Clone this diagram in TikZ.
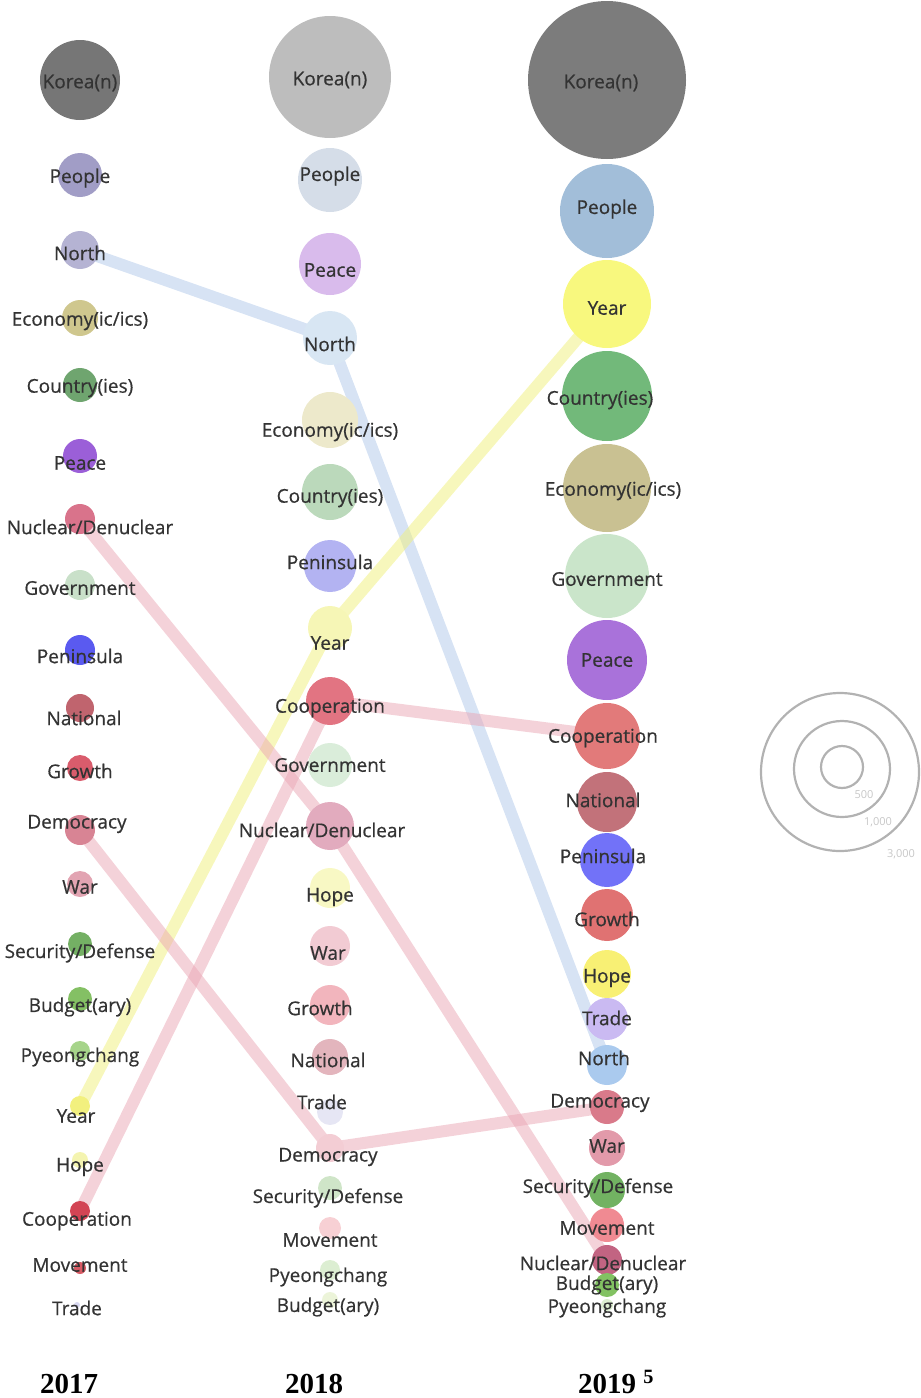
\documentclass[tikz,border=0pt]{standalone}
\usepackage{fontspec}
\setmainfont{Liberation Serif}
\newfontfamily\wordfont[FakeBold=0.6]{Open Sans}
\newfontfamily\ringfont{Open Sans}
\usetikzlibrary{backgrounds}
% 2017
\definecolor{korea17}{HTML}{767676}
\definecolor{people17}{HTML}{A19DC6}
\definecolor{north17}{HTML}{B5B3D3}
\definecolor{econ17}{HTML}{CFC78E}
\definecolor{country17}{HTML}{6FA56F}
\definecolor{peace17}{HTML}{9B5FD8}
\definecolor{nuc17}{HTML}{D9738B}
\definecolor{gov17}{HTML}{C9E0C9}
\definecolor{pen17}{HTML}{5A5AF0}
\definecolor{nat17}{HTML}{C0646E}
\definecolor{growth17}{HTML}{D95C6C}
\definecolor{demo17}{HTML}{D88494}
\definecolor{war17}{HTML}{E2A4B2}
\definecolor{sec17}{HTML}{74B064}
\definecolor{bud17}{HTML}{84C064}
\definecolor{pyeong17}{HTML}{A6D48A}
\definecolor{year17}{HTML}{F2F07E}
\definecolor{hope17}{HTML}{F4F4B0}
\definecolor{coop17}{HTML}{D24454}
\definecolor{move17}{HTML}{D85A64}
\definecolor{trade17}{HTML}{D8D8F0}
% 2018
\definecolor{korea18}{HTML}{BDBDBD}
\definecolor{people18}{HTML}{D5DDE8}
\definecolor{peace18}{HTML}{D9BBEC}
\definecolor{north18}{HTML}{D8E6F3}
\definecolor{econ18}{HTML}{EDE9CB}
\definecolor{country18}{HTML}{BBD9BB}
\definecolor{pen18}{HTML}{B3B3F2}
\definecolor{year18}{HTML}{F6F6B6}
\definecolor{coop18}{HTML}{E27482}
\definecolor{gov18}{HTML}{DAEDDA}
\definecolor{nuc18}{HTML}{E2ABBE}
\definecolor{hope18}{HTML}{F8F8C4}
\definecolor{war18}{HTML}{F2CBD3}
\definecolor{growth18}{HTML}{F2B5BD}
\definecolor{nat18}{HTML}{E3B5BD}
\definecolor{trade18}{HTML}{E6E6F4}
\definecolor{demo18}{HTML}{F3CDD4}
\definecolor{sec18}{HTML}{CFE5C8}
\definecolor{move18}{HTML}{F7D0D4}
\definecolor{pyeong18}{HTML}{DCEED2}
\definecolor{bud18}{HTML}{ECF4D9}
% 2019
\definecolor{korea19}{HTML}{7C7C7C}
\definecolor{people19}{HTML}{A2BED9}
\definecolor{year19}{HTML}{F8F87E}
\definecolor{country19}{HTML}{72B97A}
\definecolor{econ19}{HTML}{C9C192}
\definecolor{gov19}{HTML}{CAE5CA}
\definecolor{peace19}{HTML}{A972DA}
\definecolor{coop19}{HTML}{E27A7A}
\definecolor{nat19}{HTML}{C2727A}
\definecolor{pen19}{HTML}{7272F8}
\definecolor{growth19}{HTML}{E07272}
\definecolor{hope19}{HTML}{F8F074}
\definecolor{trade19}{HTML}{CABAF2}
\definecolor{north19}{HTML}{AACAEE}
\definecolor{demo19}{HTML}{D97A8A}
\definecolor{war19}{HTML}{E29AAA}
\definecolor{sec19}{HTML}{72B262}
\definecolor{move19}{HTML}{F08A92}
\definecolor{nuc19}{HTML}{C26482}
\definecolor{bud19}{HTML}{82C262}
\definecolor{pyeong19}{HTML}{DDEFD0}
% trails
\definecolor{trailblue}{HTML}{B0C8EA}
\definecolor{trailyellow}{HTML}{F0F07A}
\definecolor{trailpink}{HTML}{EAA6B4}

\newcommand{\bubble}[5]{ node[bubble, minimum size=#3, fill=#4, name={#2}] {} node[word, #1] {#5}}
\tikzset{bubble/.style={circle, draw=none, inner sep=0pt}}
\tikzset{word/.style={font=\wordfont\fontsize{19pt}{22pt}\selectfont, text=black!80, inner sep=0pt, yshift=-3pt}}
\tikzset{trail/.style={line width=12pt, opacity=.5, line join=round}}
\tikzset{ring/.style={circle, draw=black!30, line width=2.2pt, inner sep=0pt}}
\tikzset{ringlabel/.style={font=\ringfont\fontsize{11pt}{13pt}\selectfont, text=black!22}}
\tikzset{yearlabel/.style={font=\bfseries\fontsize{29pt}{32pt}\selectfont, anchor=base}}

\begin{document}
\begin{tikzpicture}[x=1pt, y=-1pt]
  \useasboundingbox (0,0) rectangle (921,1398);

  % 2017
  \path (80,80) \bubble{}{korea17}{80pt}{korea17}{Korea(n)};
  \path (80,175) \bubble{}{people17}{44pt}{people17}{People};
  \path (80,250) \bubble{}{north17}{38pt}{north17}{North};
  \path (80,318) \bubble{}{econ17}{36pt}{econ17}{Economy(ic/ics)};
  \path (80,385) \bubble{}{country17}{34pt}{country17}{Country(ies)};
  \path (80,456) \bubble{yshift=-4pt}{peace17}{34pt}{peace17}{Peace};
  \path (80,519) \bubble{yshift=-5pt, xshift=10pt}{nuc17}{30pt}{nuc17}{Nuclear/Denuclear};
  \path (80,585) \bubble{}{gov17}{30pt}{gov17}{Government};
  \path (80,650) \bubble{yshift=-3pt}{pen17}{30pt}{pen17}{Peninsula};
  \path (80,708) \bubble{yshift=-7pt, xshift=4pt}{nat17}{28pt}{nat17}{National};
  \path (80,768) \bubble{}{growth17}{26pt}{growth17}{Growth};
  \path (80,830) \bubble{yshift=9pt, xshift=-3pt}{demo17}{30pt}{demo17}{Democracy};
  \path (80,884) \bubble{}{war17}{26pt}{war17}{War};
  \path (80,944) \bubble{yshift=-6pt}{sec17}{24pt}{sec17}{Security/Defense};
  \path (80,999) \bubble{yshift=-5pt}{bud17}{24pt}{bud17}{Budget(ary)};
  \path (80,1051) \bubble{yshift=-3pt}{pyeong17}{20pt}{pyeong17}{Pyeongchang};
  \path (80,1106) \bubble{yshift=-7pt, xshift=-4pt}{year17}{20pt}{year17}{Year};
  \path (80,1160) \bubble{yshift=-4pt}{hope17}{16pt}{hope17}{Hope};
  \path (80,1211) \bubble{yshift=-7pt, xshift=-3pt}{coop17}{20pt}{coop17}{Cooperation};
  \path (80,1268) \bubble{yshift=6pt}{move17}{12pt}{move17}{Movement};
  \path (77,1305) \bubble{}{trade17}{6pt}{trade17}{Trade};

  % 2018
  \path (330,77) \bubble{}{korea18}{122pt}{korea18}{Korea(n)};
  \path (330,180) \bubble{yshift=7pt}{people18}{64pt}{people18}{People};
  \path (330,264) \bubble{yshift=-3pt}{peace18}{62pt}{peace18}{Peace};
  \path (330,338) \bubble{yshift=-3pt}{north18}{54pt}{north18}{North};
  \path (330,420) \bubble{yshift=-9pt}{econ18}{56pt}{econ18}{Economy(ic/ics)};
  \path (330,492) \bubble{yshift=-3pt}{country18}{56pt}{country18}{Country(ies)};
  \path (330,566) \bubble{yshift=7pt}{pen18}{52pt}{pen18}{Peninsula};
  \path (330,628) \bubble{yshift=-12pt}{year18}{44pt}{year18}{Year};
  \path (330,701) \bubble{yshift=-4pt}{coop18}{48pt}{coop18}{Cooperation};
  \path (330,765) \bubble{yshift=3pt}{gov18}{44pt}{gov18}{Government};
  \path (330,826) \bubble{yshift=-1pt, xshift=-8pt}{nuc18}{48pt}{nuc18}{Nuclear/Denuclear};
  \path (330,888) \bubble{yshift=-6pt}{hope18}{40pt}{hope18}{Hope};
  \path (330,946) \bubble{yshift=-4pt, xshift=-2pt}{war18}{40pt}{war18}{War};
  \path (330,1005) \bubble{xshift=-10pt}{growth18}{40pt}{growth18}{Growth};
  \path (330,1057) \bubble{xshift=-2pt}{nat18}{36pt}{nat18}{National};
  \path (330,1112) \bubble{yshift=13pt, xshift=-8pt}{trade18}{26pt}{trade18}{Trade};
  \path (330,1148) \bubble{yshift=-6pt, xshift=-2pt}{demo18}{28pt}{demo18}{Democracy};
  \path (330,1188) \bubble{yshift=-7pt, xshift=-2pt}{sec18}{24pt}{sec18}{Security/Defense};
  \path (330,1228) \bubble{yshift=-9pt}{move18}{22pt}{move18}{Movement};
  \path (330,1270) \bubble{yshift=-4pt, xshift=-2pt}{pyeong18}{20pt}{pyeong18}{Pyeongchang};
  \path (330,1300) \bubble{yshift=-4pt, xshift=-2pt}{bud18}{16pt}{bud18}{Budget(ary)};

  % 2019
  \path (607,80) \bubble{xshift=-6pt}{korea19}{158pt}{korea19}{Korea(n)};
  \path (607,211) \bubble{yshift=5pt}{people19}{94pt}{people19}{People};
  \path (607,304) \bubble{yshift=-1pt}{year19}{88pt}{year19}{Year};
  \path (607,396) \bubble{yshift=-1pt, xshift=-7pt}{country19}{90pt}{country19}{Country(ies)};
  \path (607,488) \bubble{xshift=6pt}{econ19}{88pt}{econ19}{Economy(ic/ics)};
  \path (607,576) \bubble{}{gov19}{84pt}{gov19}{Government};
  \path (607,660) \bubble{yshift=3pt}{peace19}{80pt}{peace19}{Peace};
  \path (607,736) \bubble{yshift=1pt, xshift=-4pt}{coop19}{66pt}{coop19}{Cooperation};
  \path (607,802) \bubble{yshift=5pt, xshift=-4pt}{nat19}{60pt}{nat19}{National};
  \path (607,860) \bubble{yshift=7pt, xshift=-4pt}{pen19}{54pt}{pen19}{Peninsula};
  \path (607,915) \bubble{yshift=-1pt}{growth19}{52pt}{growth19}{Growth};
  \path (607,974) \bubble{yshift=-1pt}{hope19}{48pt}{hope19}{Hope};
  \path (607,1019) \bubble{yshift=4pt}{trade19}{42pt}{trade19}{Trade};
  \path (607,1065) \bubble{yshift=10pt, xshift=-3pt}{north19}{40pt}{north19}{North};
  \path (607,1107) \bubble{yshift=7pt, xshift=-7pt}{demo19}{34pt}{demo19}{Democracy};
  \path (607,1148) \bubble{yshift=5pt}{war19}{36pt}{war19}{War};
  \path (607,1190) \bubble{yshift=5pt, xshift=-9pt}{sec19}{36pt}{sec19}{Security/Defense};
  \path (607,1225) \bubble{}{move19}{34pt}{move19}{Movement};
  \path (607,1260) \bubble{xshift=-4pt}{nuc19}{30pt}{nuc19}{Nuclear/Denuclear};
  \path (607,1285) \bubble{yshift=3pt}{bud19}{24pt}{bud19}{Budget(ary)};
  \path (607,1305) \bubble{}{pyeong19}{12pt}{pyeong19}{Pyeongchang};

  % trails between the years
  \begin{scope}[on background layer]
    \draw[trail, trailblue] (north17.center) -- (north18.center) -- (north19.center);
    \draw[trail, trailyellow] (year17.center) -- (year18.center) -- (year19.center);
    \draw[trail, trailpink] (coop17.center) -- (coop18.center) -- (coop19.center);
    \draw[trail, trailpink] (nuc17.center) -- (nuc18.center) -- (nuc19.center);
    \draw[trail, trailpink] (demo17.center) -- (demo18.center) -- (demo19.center);
  \end{scope}

  % size legend
  \node[ring, minimum size=158pt] (ring3000) at (840,772) {};
  \node[ring, minimum size=96pt] (ring1000) at (842,769) {};
  \node[ring, minimum size=42pt] (ring500) at (842,767) {};
  \node[ringlabel] (lab500) at (864,795) {500};
  \node[ringlabel] (lab1000) at (878,822) {1,000};
  \node[ringlabel] (lab3000) at (901,854) {3,000};

  % years
  \node[yearlabel] (y2017) at (69,1393) {2017};
  \node[yearlabel] (y2018) at (314,1393) {2018};
  \node[yearlabel] (y2019) at (616,1393) {2019 \textsuperscript{5}};
\end{tikzpicture}
\end{document}
